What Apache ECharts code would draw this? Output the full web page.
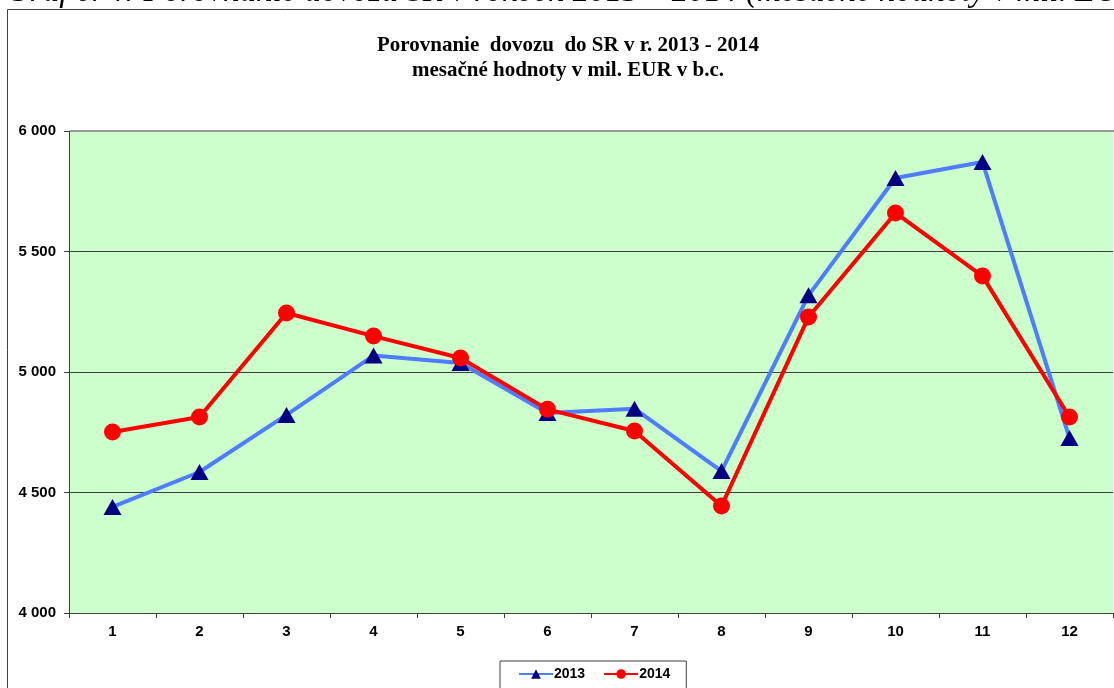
<!DOCTYPE html>
<html>
<head>
<meta charset="utf-8">
<script src="https://cdn.jsdelivr.net/npm/echarts@6/dist/echarts.min.js"></script>
<style>
 html,body{margin:0;padding:0;background:#fff;}
 #chart{width:1114px;height:688px;}
</style>
</head>
<body>
<div id="chart"></div>
<script>
var months = ['1','2','3','4','5','6','7','8','9','10','11','12'];
var dovoz2013 = [4440, 4585, 4822, 5068, 5037, 4830, 4848, 4589, 5318, 5805, 5871, 4726];
var dovoz2014 = [4751, 4813, 5245, 5149, 5058, 4845, 4755, 4444, 5228, 5660, 5398, 4813];
var yTicks = [4000, 4500, 5000, 5500, 6000];

var chart = echarts.init(document.getElementById('chart'));

// formát 6 000
function fmt(v){
  var s = String(v);
  return s.length > 3 ? s.slice(0, s.length - 3) + ' ' + s.slice(-3) : s;
}

chart.setOption({
  backgroundColor: '#fff',
  animation: false,
  title: {
    text: 'Porovnanie  dovozu  do SR v r. 2013 - 2014\nmesačné hodnoty v mil. EUR v b.c.',
    left: 563,
    textAlign: 'center',
    top: 28,
    textStyle: {
      fontFamily: 'Liberation Serif',
      fontWeight: 'bold',
      fontSize: 21,
      lineHeight: 25,
      color: '#000'
    }
  },
  graphic: [
    {
      type: 'text',
      left: 6,
      top: -24,
      style: {
        text: 'Graf č. 4: Porovnanie dovozu SR v rokoch 2013 – 2014 (mesačné hodnoty v mil. EUR)',
        font: 'italic 33px "Liberation Serif"',
        fill: '#000'
      }
    },
    {
      type: 'rect',
      shape: {x: 7.5, y: 9.5, width: 1200, height: 800},
      style: {fill: 'none', stroke: '#404040', lineWidth: 1},
      z: 0
    },
    {
      // horný okraj grafu je svetlejší
      type: 'rect',
      shape: {x: 70, y: 130, width: 1044, height: 2},
      style: {fill: '#9a9a9a'},
      z: 10
    }
  ],
  legend: {
    data: ['2013', '2014'],
    left: 500,
    top: 661,
    padding: [6, 16, 20, 18],
    itemGap: 18,
    itemWidth: 34,
    itemHeight: 12,
    borderColor: '#404040',
    borderWidth: 1,
    textStyle: {fontFamily: 'Liberation Sans', fontWeight: 'bold', fontSize: 14, color: '#000', padding: [0, 0, 0, -4]}
  },
  grid: {
    left: 69,
    right: 1,
    top: 131,
    bottom: 75,
    show: true,
    backgroundColor: '#ccffcc',
    borderWidth: 0
  },
  xAxis: {
    type: 'category',
    data: months,
    boundaryGap: true,
    axisLine: {lineStyle: {color: '#404040', width: 1}},
    axisTick: {show: true, length: 5, lineStyle: {color: '#404040'}},
    axisLabel: {fontFamily: 'Liberation Sans', fontWeight: 'bold', fontSize: 15, color: '#000', margin: 11},
    splitLine: {show: false}
  },
  yAxis: {
    type: 'value',
    min: yTicks[0],
    max: yTicks[yTicks.length - 1],
    interval: 500,
    axisLine: {show: true, lineStyle: {color: '#404040', width: 1}},
    axisTick: {show: true, length: 5, lineStyle: {color: '#404040'}},
    axisLabel: {
      fontFamily: 'Liberation Sans', fontWeight: 'bold', fontSize: 15, color: '#000', margin: 13,
      formatter: function(v){ return fmt(v); }
    },
    splitLine: {show: true, lineStyle: {color: '#404040', width: 1}}
  },
  series: [
    {
      name: '2013',
      type: 'line',
      data: dovoz2013,
      symbol: 'triangle',
      symbolSize: [18, 16],
      z: 2,
      lineStyle: {color: '#4f7dff', width: 4},
      itemStyle: {color: '#000080', borderWidth: 0}
    },
    {
      name: '2014',
      type: 'line',
      data: dovoz2014,
      symbol: 'circle',
      symbolSize: 17,
      z: 3,
      lineStyle: {color: '#ff0000', width: 4},
      itemStyle: {color: '#ff0000', borderWidth: 0}
    }
  ]
});
</script>
</body>
</html>
